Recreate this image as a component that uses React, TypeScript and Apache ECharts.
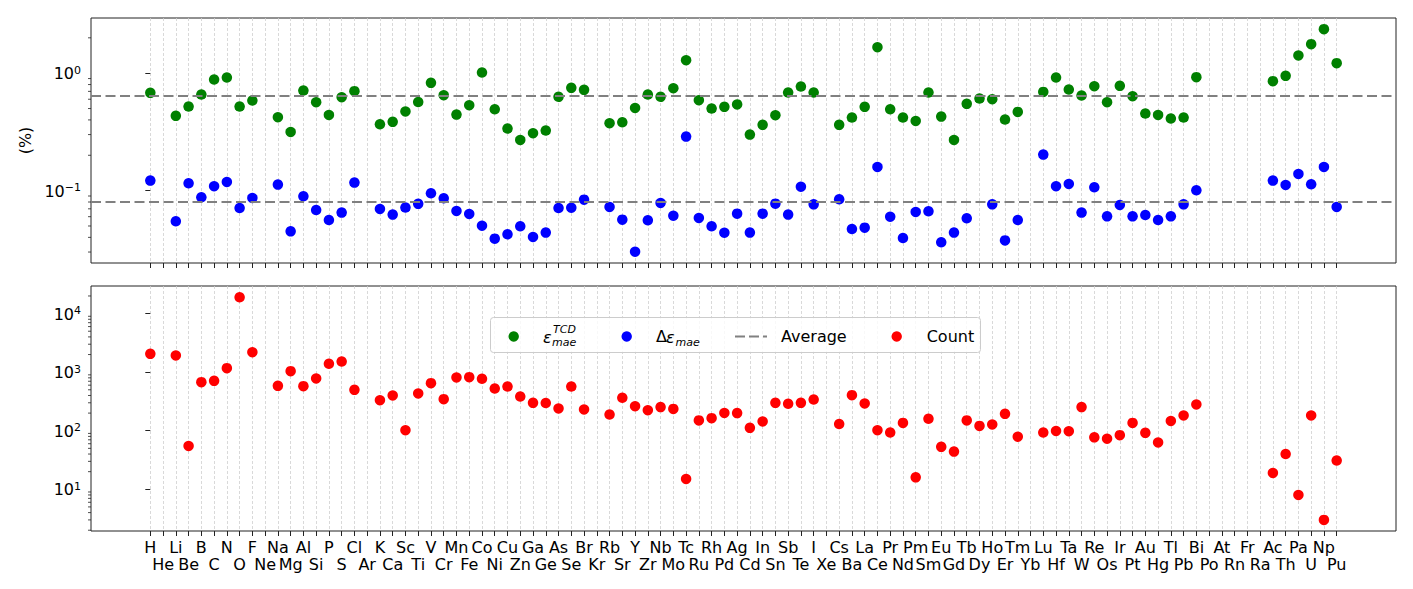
import React, { useEffect, useRef } from 'react';
import * as echarts from 'echarts';

const elements = [
  'H', 'He', 'Li', 'Be', 'B', 'C', 'N', 'O', 'F', 'Ne',
  'Na', 'Mg', 'Al', 'Si', 'P', 'S', 'Cl', 'Ar',
  'K', 'Ca', 'Sc', 'Ti', 'V', 'Cr', 'Mn', 'Fe', 'Co', 'Ni', 'Cu', 'Zn', 'Ga', 'Ge', 'As', 'Se', 'Br', 'Kr',
  'Rb', 'Sr', 'Y', 'Zr', 'Nb', 'Mo', 'Tc', 'Ru', 'Rh', 'Pd', 'Ag', 'Cd', 'In', 'Sn', 'Sb', 'Te', 'I', 'Xe',
  'Cs', 'Ba', 'La', 'Ce', 'Pr', 'Nd', 'Pm', 'Sm', 'Eu', 'Gd', 'Tb', 'Dy', 'Ho', 'Er', 'Tm', 'Yb', 'Lu',
  'Hf', 'Ta', 'W', 'Re', 'Os', 'Ir', 'Pt', 'Au', 'Hg', 'Tl', 'Pb', 'Bi', 'Po', 'At', 'Rn',
  'Fr', 'Ra', 'Ac', 'Th', 'Pa', 'U', 'Np', 'Pu',
];

// epsilon_mae^TCD (%)
const tcdMae: (number | null)[] = [
  0.68, null, 0.433, 0.52, 0.658, 0.883, 0.918, 0.52, 0.585, null,
  0.422, 0.316, 0.711, 0.566, 0.441, 0.624, 0.703, null,
  0.367, 0.385, 0.472, 0.568, 0.827, 0.649, 0.444, 0.534, 1.013, 0.493, 0.338, 0.27, 0.308, 0.325, 0.629, 0.75, 0.721, null,
  0.375, 0.382, 0.506, 0.658, 0.629, 0.745, 1.29, 0.589, 0.5, 0.517, 0.542, 0.3, 0.363, 0.439, 0.684, 0.77, 0.684, null,
  0.363, 0.419, 0.517, 1.665, 0.493, 0.419, 0.392, 0.684, 0.427, 0.27, 0.548, 0.608, 0.6, 0.403, 0.468, null, 0.693,
  0.918, 0.726, 0.645, 0.775, 0.566, 0.78, 0.637, 0.453, 0.441, 0.411, 0.419, 0.925, null, null, null,
  null, null, 0.855, 0.949, 1.415, 1.767, 2.37, 1.217,
];

// Delta epsilon_mae (%)
const deltaMae: (number | null)[] = [
  0.1217, null, 0.0548, 0.1155, 0.0877, 0.109, 0.1186, 0.0711, 0.0866, null,
  0.1125, 0.045, 0.0895, 0.0684, 0.0562, 0.065, 0.117, null,
  0.0698, 0.0625, 0.0718, 0.0772, 0.0949, 0.0861, 0.0671, 0.0633, 0.0503, 0.039, 0.0425, 0.0497, 0.0403, 0.0439, 0.0711, 0.0715, 0.0838, null,
  0.0726, 0.0566, 0.0302, 0.0559, 0.0785, 0.0612, 0.2885, 0.0585, 0.0497, 0.0438, 0.0637, 0.0439, 0.0637, 0.0775, 0.0625, 0.108, 0.0764, null,
  0.0844, 0.0471, 0.0484, 0.159, 0.06, 0.0395, 0.0658, 0.0667, 0.0363, 0.0439, 0.0581, null, 0.0764, 0.0377, 0.0562, null, 0.2027,
  0.109, 0.114, 0.065, 0.1068, 0.0604, 0.0755, 0.0604, 0.062, 0.0562, 0.0604, 0.0764, 0.1007, null, null, null,
  null, null, 0.1217, 0.1117, 0.1387, 0.1133, 0.159, 0.0726,
];

// Count
const counts: (number | null)[] = [
  2055, null, 1928, 55, 675, 711, 1170, 19000, 2194, null,
  584, 1040, 577, 780, 1388, 1520, 499, null,
  332, 400, 102, 433, 649, 346, 811, 822, 770, 526, 569, 384, 299, 297, 240, 569, 231, null,
  189, 365, 262, 224, 253, 236, 15, 150, 164, 201, 200, 112, 144, 299, 288, 299, 341, null,
  130, 405, 292, 102, 93, 136, 16, 160, 53, 44, 150, 121, 128, 194, 79, null, 93,
  99, 98, 253, 77, 73, 84, 136, 92, 63, 147, 182, 281, null, null, null,
  null, null, 19, 40, 8, 182, 3, 31,
];

const avgTcd = 0.641;
const avgDelta = 0.0775;

const topRange = [0.0242, 2.95];
const bottomRange = [1.94, 29600];
const xRange = [-4.65, 97.65];

const FONT = "'DejaVu Sans', 'Liberation Sans', sans-serif";
const AXIS_COLOR = '#222';

function toPoints(arr: (number | null)[]) {
  const out: number[][] = [];
  arr.forEach((v, i) => {
    if (v != null) out.push([i, v]);
  });
  return out;
}

function minorTickValues(lo: number, hi: number) {
  const out: number[][] = [];
  const e0 = Math.floor(Math.log10(lo));
  const e1 = Math.ceil(Math.log10(hi));
  for (let e = e0; e <= e1; e++) {
    for (let m = 2; m <= 9; m++) {
      const v = m * Math.pow(10, e);
      if (v >= lo && v <= hi) out.push([0, v]);
    }
  }
  return out;
}

const tickIdx = elements.map((_, i) => i);
const evenIdx = tickIdx.filter((i) => i % 2 === 0);
const oddIdx = tickIdx.filter((i) => i % 2 === 1);

function logLabel(v: number) {
  const e = Math.round(Math.log10(v));
  const s = e < 0 ? '\u2212' + -e : String(e);
  return `{b|10}{s|${s}}`;
}

const logRich = {
  b: { fontSize: 16, fontFamily: FONT, color: '#000', lineHeight: 17, padding: [3, 0, 0, 0], verticalAlign: 'bottom' },
  s: { fontSize: 11, fontFamily: FONT, color: '#000', lineHeight: 12, verticalAlign: 'top' },
};

function xAxisCfg(gridIndex: number, labelValues: number[] | null, margin: number, withTicks: boolean) {
  return {
    type: 'value',
    gridIndex,
    position: 'bottom',
    offset: 0,
    min: xRange[0],
    max: xRange[1],
    axisLine: { show: false },
    axisTick: { show: withTicks, customValues: tickIdx, length: 5, lineStyle: { color: AXIS_COLOR, width: 1 } },
    axisLabel: {
      show: !!labelValues,
      customValues: labelValues || tickIdx,
      showMinLabel: true,
      showMaxLabel: true,
      hideOverlap: false,
      fontFamily: FONT,
      fontSize: 16,
      lineHeight: 17,
      color: '#000',
      margin,
      formatter: (v: number) => elements[Math.round(v)],
    },
    splitLine: { show: withTicks, lineStyle: { color: '#cfcfcf', type: [3, 2], width: 0.8 } },
  };
}

function yAxisCfg(gridIndex: number, range: number[], name: string) {
  return {
    type: 'log',
    logBase: 10,
    gridIndex,
    min: range[0],
    max: range[1],
    name,
    nameLocation: 'middle',
    nameRotate: 90,
    nameGap: 56,
    nameTextStyle: { fontFamily: FONT, fontSize: 16, color: '#000' },
    axisLine: { show: false },
    axisTick: { show: true, length: 5, lineStyle: { color: AXIS_COLOR, width: 1 } },
    axisLabel: {
      showMinLabel: false,
      showMaxLabel: false,
      margin: 10,
      formatter: logLabel,
      rich: logRich,
    },
    splitLine: { show: false },
    minorTick: { show: false },
  };
}

function minorTickSeries(xAxisIndex: number, yAxisIndex: number, range: number[]) {
  return {
    type: 'custom',
    xAxisIndex,
    yAxisIndex,
    silent: true,
    clip: false,
    z: 1,
    data: minorTickValues(range[0], range[1]),
    renderItem: (params: any, api: any) => {
      const pt = api.coord([0, api.value(1)]);
      const x0 = params.coordSys.x;
      return {
        type: 'line',
        shape: { x1: x0 - 3, y1: pt[1], x2: x0, y2: pt[1] },
        style: { stroke: AXIS_COLOR, lineWidth: 0.8 },
      };
    },
  };
}

const avgLineStyle = { color: '#808080', type: [10, 4.5], width: 2 };

function legendGraphic() {
  const cy = 336.5;
  const txt = (text: string, x: number, y: number, size: number, italic: boolean) => ({
    type: 'text',
    x,
    y,
    z: 100,
    style: {
      text,
      fontFamily: FONT,
      fontSize: size,
      fontStyle: italic ? 'italic' : 'normal',
      fill: '#000',
      verticalAlign: 'middle',
      align: 'left',
    },
  });
  return [
    {
      type: 'rect',
      z: 99,
      shape: { x: 490.5, y: 317.5, width: 490, height: 35, r: 3 },
      style: { fill: 'rgba(255,255,255,0.8)', stroke: '#cccccc', lineWidth: 1 },
    },
    { type: 'circle', z: 100, shape: { cx: 513.7, cy, r: 5.2 }, style: { fill: 'green' } },
    txt('\u03b5', 543, cy + 1, 16, true),
    txt('TCD', 553, cy - 7, 11, true),
    txt('mae', 552, cy + 6, 11, true),
    { type: 'circle', z: 100, shape: { cx: 626.7, cy, r: 5.2 }, style: { fill: 'blue' } },
    txt('\u0394', 656, cy, 16, false),
    txt('\u03b5', 666, cy + 1, 16, true),
    txt('mae', 675.5, cy + 6, 11, true),
    {
      type: 'line',
      z: 100,
      shape: { x1: 735, y1: cy, x2: 767, y2: cy },
      style: { stroke: '#808080', lineWidth: 2, lineDash: [10, 4] },
    },
    txt('Average', 781, cy, 16, false),
    { type: 'circle', z: 100, shape: { cx: 896.7, cy, r: 5.2 }, style: { fill: 'red' } },
    txt('Count', 926.7, cy, 16, false),
  ];
}

export default function App() {
  const ref = useRef<HTMLDivElement>(null);

  useEffect(() => {
    if (!ref.current) return;
    const chart = echarts.init(ref.current, undefined, { renderer: 'svg' });
    const option: any = {
      animation: false,
      backgroundColor: '#ffffff',
      textStyle: { fontFamily: FONT },
      grid: [
        { left: 91, top: 18, width: 1305, height: 245, show: true, borderColor: AXIS_COLOR, borderWidth: 1, backgroundColor: 'transparent' },
        { left: 91, top: 286, width: 1305, height: 245, show: true, borderColor: AXIS_COLOR, borderWidth: 1, backgroundColor: 'transparent' },
      ],
      xAxis: [
        xAxisCfg(0, null, 8, true),
        xAxisCfg(1, evenIdx, 8, true),
        xAxisCfg(1, oddIdx, 25, false),
      ],
      yAxis: [yAxisCfg(0, topRange, '(%)'), yAxisCfg(1, bottomRange, '')],
      series: [
        {
          name: 'eps_mae_TCD',
          type: 'scatter',
          xAxisIndex: 0,
          yAxisIndex: 0,
          symbol: 'circle',
          symbolSize: 10.5,
          itemStyle: { color: 'green', opacity: 1 },
          z: 3,
          data: toPoints(tcdMae),
          markLine: {
            silent: true,
            symbol: ['none', 'none'],
            label: { show: false },
            lineStyle: avgLineStyle,
            data: [{ yAxis: avgTcd }],
          },
        },
        {
          name: 'delta_eps_mae',
          type: 'scatter',
          xAxisIndex: 0,
          yAxisIndex: 0,
          symbol: 'circle',
          symbolSize: 10.5,
          itemStyle: { color: 'blue', opacity: 1 },
          z: 3,
          data: toPoints(deltaMae),
          markLine: {
            silent: true,
            symbol: ['none', 'none'],
            label: { show: false },
            lineStyle: avgLineStyle,
            data: [{ yAxis: avgDelta }],
          },
        },
        {
          name: 'Count',
          type: 'scatter',
          xAxisIndex: 1,
          yAxisIndex: 1,
          symbol: 'circle',
          symbolSize: 10.5,
          itemStyle: { color: 'red', opacity: 1 },
          z: 3,
          data: toPoints(counts),
        },
        minorTickSeries(0, 0, topRange),
        minorTickSeries(1, 1, bottomRange),
      ],
      graphic: legendGraphic(),
    };
    chart.setOption(option);
    return () => chart.dispose();
  }, []);

  return (
    <div
      ref={ref}
      style={{ position: 'fixed', left: 0, top: 0, width: 1413, height: 589, background: '#fff' }}
    />
  );
}
